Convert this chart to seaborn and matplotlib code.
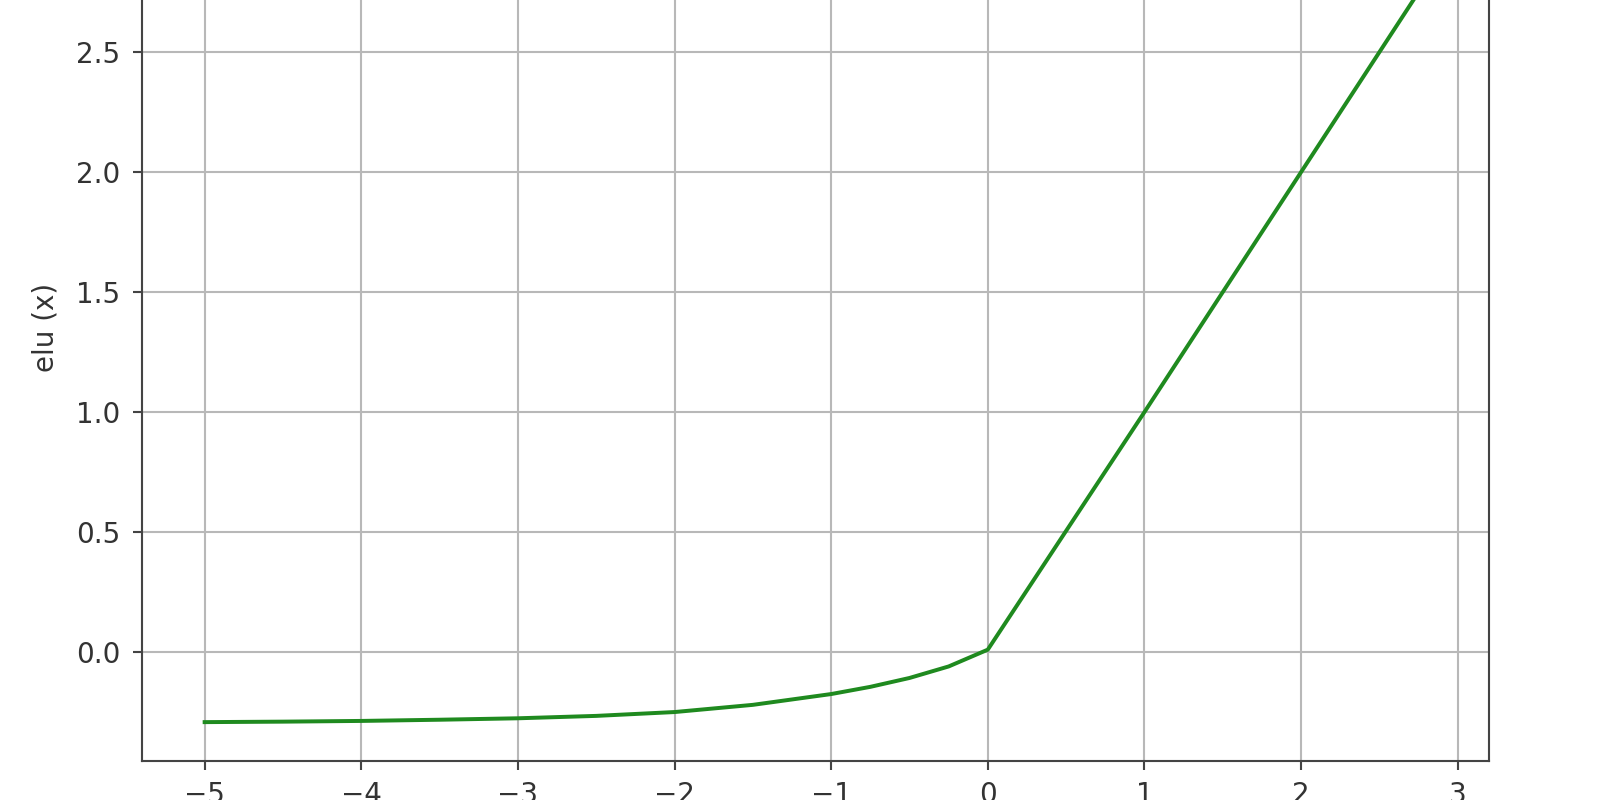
import matplotlib
matplotlib.use("Agg")
import matplotlib.pyplot as plt
import seaborn as sns

# ELU curve, values
x_values = [-5.0, -4.5, -4.0, -3.5, -3.0, -2.5, -2.0, -1.5, -1.0, -0.75, -0.5, -0.25, 0.0, 1.0, 2.0, 3.0]
elu_values = [-0.292, -0.290, -0.287, -0.282, -0.276, -0.266, -0.250, -0.220, -0.175, -0.145, -0.108, -0.060, 0.01, 1.0, 2.0, 3.0]

x_ticks = [-5, -4, -3, -2, -1, 0, 1, 2, 3]
y_ticks = [0.0, 0.5, 1.0, 1.5, 2.0, 2.5]

# スケール係数 (元画像は小さい図を拡大したもの)
s = 1.9
plt.rcParams.update({
    "font.size": 20,
    "text.color": "#333333",
    "axes.labelcolor": "#333333",
    "xtick.labelcolor": "#333333",
    "ytick.labelcolor": "#333333",
    "axes.edgecolor": "#444444",
    "xtick.color": "#444444",
    "ytick.color": "#444444",
    "axes.linewidth": 0.8 * s,
    "xtick.major.size": 3.5 * s,
    "ytick.major.size": 3.5 * s,
    "xtick.major.width": 0.8 * s,
    "ytick.major.width": 0.8 * s,
    "xtick.major.pad": 8,
    "ytick.major.pad": 9,
    "axes.labelpad": 12,
    "grid.linewidth": 0.8 * s,
    "grid.color": "#b8b8b8",
})

fig = plt.figure(figsize=(16, 8), dpi=100)
# 上端は画像の外まで伸ばす（参照画像は上が切れている）
ax = fig.add_axes([0.08875, 0.04875, 0.841875, 1.084])

sns.lineplot(x=x_values, y=elu_values, ax=ax, color="#1f8a1f", linewidth=1.5 * s)

ax.set_xlim(-5.40, 3.20)
ax.set_ylim(-0.454, 3.16)
ax.set_xticks(x_ticks)
ax.set_yticks(y_ticks)
ax.set_ylabel("elu (x)")
ax.grid(True)

fig.savefig("out.png", dpi=100)
plt.close(fig)
